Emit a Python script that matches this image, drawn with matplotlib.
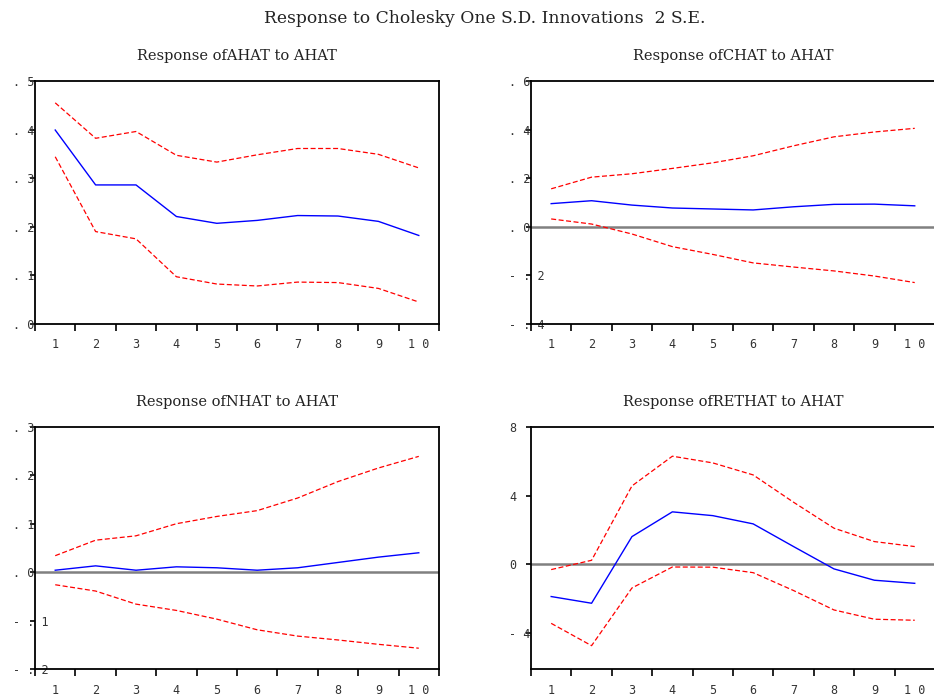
import matplotlib.pyplot as plt
import numpy as np

# impulse horizon (periods 1..10), drawn at bin centres
periods = np.arange(1, 11)
period_labels = ["1", "2", "3", "4", "5", "6", "7", "8", "9", "1 0"]

# Response of AHAT to AHAT
ahat_resp = [0.399, 0.286, 0.286, 0.221, 0.207, 0.213, 0.223, 0.222, 0.211, 0.182]
ahat_upper = [0.455, 0.382, 0.396, 0.347, 0.333, 0.348, 0.361, 0.361, 0.349, 0.321]
ahat_lower = [0.344, 0.190, 0.175, 0.097, 0.082, 0.078, 0.086, 0.085, 0.073, 0.045]

# Response of CHAT to AHAT
chat_resp = [0.095, 0.107, 0.089, 0.077, 0.073, 0.069, 0.082, 0.092, 0.093, 0.086]
chat_upper = [0.156, 0.204, 0.218, 0.240, 0.263, 0.292, 0.333, 0.370, 0.390, 0.405]
chat_lower = [0.032, 0.011, -0.030, -0.082, -0.114, -0.149, -0.166, -0.182, -0.203, -0.230]

# Response of NHAT to AHAT
nhat_resp = [0.004, 0.013, 0.004, 0.011, 0.009, 0.004, 0.009, 0.020, 0.031, 0.040]
nhat_upper = [0.034, 0.066, 0.075, 0.100, 0.115, 0.127, 0.153, 0.187, 0.215, 0.239]
nhat_lower = [-0.026, -0.039, -0.066, -0.079, -0.097, -0.119, -0.132, -0.140, -0.149, -0.157]

# Response of RETHAT to AHAT
rethat_resp = [-1.88, -2.27, 1.61, 3.05, 2.83, 2.35, 1.03, -0.27, -0.93, -1.11]
rethat_upper = [-0.31, 0.23, 4.56, 6.29, 5.90, 5.20, 3.61, 2.10, 1.32, 1.03]
rethat_lower = [-3.44, -4.74, -1.38, -0.16, -0.17, -0.49, -1.53, -2.66, -3.20, -3.26]

titles = ["Response ofAHAT to AHAT", "Response ofCHAT to AHAT",
          "Response ofNHAT to AHAT", "Response ofRETHAT to AHAT"]

ahat_ticks = [0.0, 0.1, 0.2, 0.3, 0.4, 0.5]
ahat_ticklabels = [". 0", ". 1", ". 2", ". 3", ". 4", ". 5"]
chat_ticks = [-0.4, -0.2, 0.0, 0.2, 0.4, 0.6]
chat_ticklabels = ["- . 4", "- . 2", ". 0", ". 2", ". 4", ". 6"]
nhat_ticks = [-0.2, -0.1, 0.0, 0.1, 0.2, 0.3]
nhat_ticklabels = ["- . 2", "- . 1", ". 0", ". 1", ". 2", ". 3"]
rethat_ticks = [-4, 0, 4, 8]
rethat_ticklabels = ["- 4", "0", "4", "8"]

panels = [
    # title, resp, upper, lower, ylim, ticks, labels, zero line, [l, b, w, h]
    (titles[0], ahat_resp, ahat_upper, ahat_lower, (0.0, 0.5),
     ahat_ticks, ahat_ticklabels, False, [0.0375, 0.536, 0.4325, 0.348]),
    (titles[1], chat_resp, chat_upper, chat_lower, (-0.4, 0.6),
     chat_ticks, chat_ticklabels, True, [0.5685, 0.536, 0.4325, 0.348]),
    (titles[2], nhat_resp, nhat_upper, nhat_lower, (-0.2, 0.3),
     nhat_ticks, nhat_ticklabels, True, [0.0375, 0.0415, 0.4325, 0.347]),
    (titles[3], rethat_resp, rethat_upper, rethat_lower, (-6.1, 8.0),
     rethat_ticks, rethat_ticklabels, True, [0.5685, 0.0415, 0.4325, 0.347]),
]

mono = "DejaVu Sans Mono"
serif = "DejaVu Serif"

fig = plt.figure(figsize=(9.34, 6.98), dpi=100)
fig.text(0.519, 0.973, "Response to Cholesky One S.D. Innovations  2 S.E.",
         ha="center", va="center", fontsize=12.3, family=serif, color="#222222")

for title, resp, upper, lower, ylim, yticks, ylabels, zero, pos in panels:
    ax = fig.add_axes(pos)
    if zero:
        ax.axhline(0, color="#808080", lw=1.8, zorder=1)
    ax.plot(periods, upper, color="red", lw=0.9, ls=(0, (4, 2)))
    ax.plot(periods, resp, color="blue", lw=1.0)
    ax.plot(periods, lower, color="red", lw=0.9, ls=(0, (4, 2)))

    ax.set_xlim(0.5, 10.5)
    ax.set_ylim(*ylim)
    ax.set_xticks(periods)
    ax.set_xticklabels(period_labels, family=mono, fontsize=8.5, color="#333333")
    ax.set_xticks(np.arange(0.5, 11, 1), minor=True)
    ax.tick_params(axis="x", which="major", length=0, pad=10.5)
    ax.tick_params(axis="x", which="minor", length=5, width=1.2, direction="out")

    ax.set_yticks(yticks)
    ax.set_yticklabels(ylabels, family=mono, fontsize=8.5, color="#333333")
    ax.tick_params(axis="y", length=3.5, width=1.2, pad=12.3)
    for lab in ax.get_yticklabels():
        lab.set_horizontalalignment("left")

    for sp in ax.spines.values():
        sp.set_linewidth(1.3)
    ax.set_title(title, family=serif, fontsize=10.5, pad=15, color="#222222")

plt.savefig("out.png", dpi=100)
